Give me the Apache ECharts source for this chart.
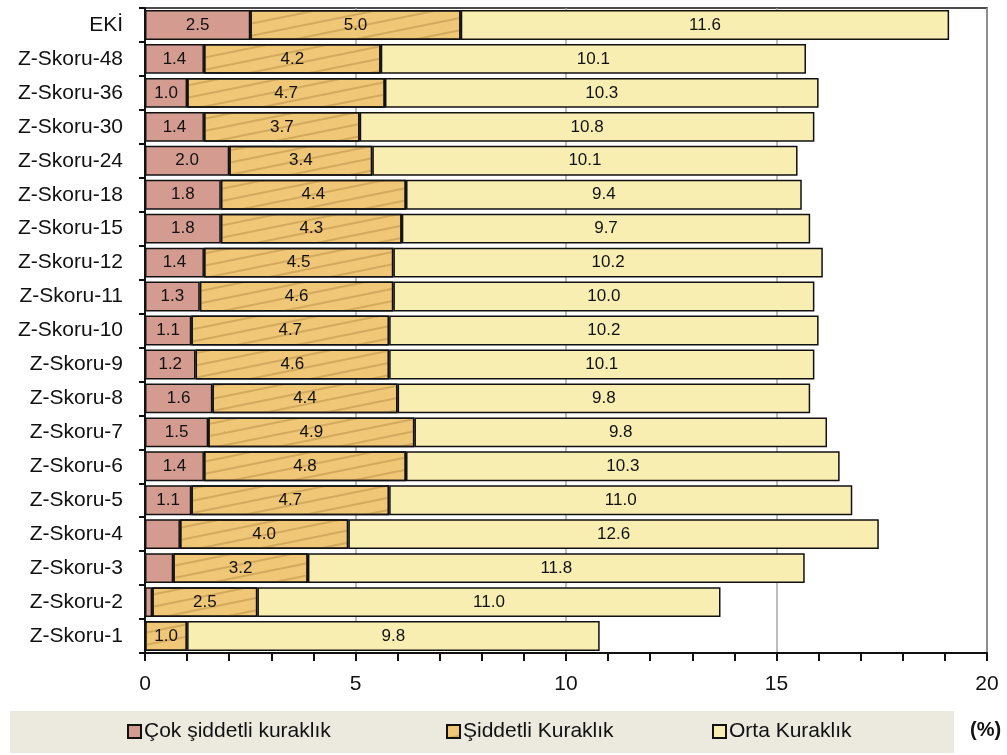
<!DOCTYPE html>
<html>
<head>
<meta charset="utf-8">
<script src="https://cdn.jsdelivr.net/npm/echarts@6/dist/echarts.min.js"></script>
<style>
  html, body { margin: 0; padding: 0; background: #fff; }
  #chart { width: 1007px; height: 755px; }
</style>
</head>
<body>
<div id="chart"></div>
<script>
// Drought class shares (%) per index, bottom to top
const categories = ['Z-Skoru-1', 'Z-Skoru-2', 'Z-Skoru-3', 'Z-Skoru-4', 'Z-Skoru-5', 'Z-Skoru-6',
  'Z-Skoru-7', 'Z-Skoru-8', 'Z-Skoru-9', 'Z-Skoru-10', 'Z-Skoru-11', 'Z-Skoru-12', 'Z-Skoru-15',
  'Z-Skoru-18', 'Z-Skoru-24', 'Z-Skoru-30', 'Z-Skoru-36', 'Z-Skoru-48', 'EKİ'];
const cokSiddetli = [0, 0.17, 0.67, 0.83, 1.1, 1.4, 1.5, 1.6, 1.2, 1.1, 1.3, 1.4, 1.8, 1.8, 2.0, 1.4, 1.0, 1.4, 2.5];
const siddetli = [1.0, 2.5, 3.2, 4.0, 4.7, 4.8, 4.9, 4.4, 4.6, 4.7, 4.6, 4.5, 4.3, 4.4, 3.4, 3.7, 4.7, 4.2, 5.0];
const orta = [9.8, 11.0, 11.8, 12.6, 11.0, 10.3, 9.8, 9.8, 10.1, 10.2, 10.0, 10.2, 9.7, 9.4, 10.1, 10.8, 10.3, 10.1, 11.6];
const seriesNames = ['Çok şiddetli kuraklık', 'Şiddetli Kuraklık', 'Orta Kuraklık'];
const xTicks = { min: 0, max: 20, step: 5 };

const FONT = '"Liberation Sans Narrow", "Liberation Sans", Arial, sans-serif';

const label = {
  show: true,
  position: 'inside',
  color: '#111',
  fontFamily: FONT,
  fontSize: 17,
  formatter: p => (p.value >= 1 ? p.value.toFixed(1) : '')
};

const border = { borderColor: '#111', borderWidth: 1.5 };

// one legend block per series so each entry sits at its own x position
const legendLefts = [122, 441, 707];
const legends = seriesNames.map((name, i) => ({
  data: [name],
  left: legendLefts[i],
  bottom: 8,
  itemWidth: 13,
  itemHeight: 13,
  icon: 'rect',
  textStyle: { color: '#111', fontSize: 21, fontFamily: FONT, padding: [0, 0, 0, -2] }
}));

const chart = echarts.init(document.getElementById('chart'), null, { renderer: 'canvas' });
chart.setOption({
  animation: false,
  textStyle: { fontFamily: FONT },
  grid: {
    left: 145, right: 20, top: 8, bottom: 102,
    show: true, borderColor: '#111', borderWidth: 1.5
  },
  xAxis: {
    type: 'value',
    min: xTicks.min, max: xTicks.max, interval: xTicks.step,
    axisLine: { show: true, lineStyle: { color: '#111', width: 2 } },
    axisTick: { show: true, length: 8, lineStyle: { color: '#111', width: 2 } },
    minorTick: { show: true, splitNumber: 5, length: 8, lineStyle: { color: '#111', width: 2 } },
    splitLine: { show: true, lineStyle: { color: '#a6a6a6', width: 1.5 } },
    axisLabel: { color: '#111', fontSize: 21, margin: 21, fontFamily: FONT }
  },
  yAxis: {
    type: 'category',
    data: categories,
    axisLine: { show: true, lineStyle: { color: '#111', width: 2 } },
    axisTick: { show: true, length: 6, inside: false, lineStyle: { color: '#111', width: 2 } },
    axisLabel: { color: '#111', fontSize: 21, margin: 22, fontFamily: FONT }
  },
  legend: legends,
  graphic: [
    { type: 'rect', z: -1, shape: { x: 10, y: 711, width: 944, height: 42 }, style: { fill: '#ece9df' } },
    { type: 'text', left: 970, top: 720, style: { text: '(%)', fontSize: 20, fontWeight: 'bold', fill: '#111', fontFamily: FONT } }
  ],
  series: [
    {
      name: seriesNames[0], type: 'bar', stack: 'total', barCategoryGap: '12%',
      data: cokSiddetli,
      itemStyle: Object.assign({ color: '#d49c90' }, border),
      label
    },
    {
      name: seriesNames[1], type: 'bar', stack: 'total',
      data: siddetli,
      itemStyle: Object.assign({
        color: '#f0c677',
        decal: {
          symbol: 'rect',
          symbolSize: 1,
          color: 'rgba(150, 110, 40, 0.32)',
          backgroundColor: 'rgba(0,0,0,0)',
          dashArrayX: [[1, 0]],
          dashArrayY: [1.5, 10],
          rotation: -0.2
        }
      }, border),
      label
    },
    {
      name: seriesNames[2], type: 'bar', stack: 'total',
      data: orta,
      itemStyle: Object.assign({ color: '#f8eeb2' }, border),
      label
    }
  ]
});
</script>
</body>
</html>
